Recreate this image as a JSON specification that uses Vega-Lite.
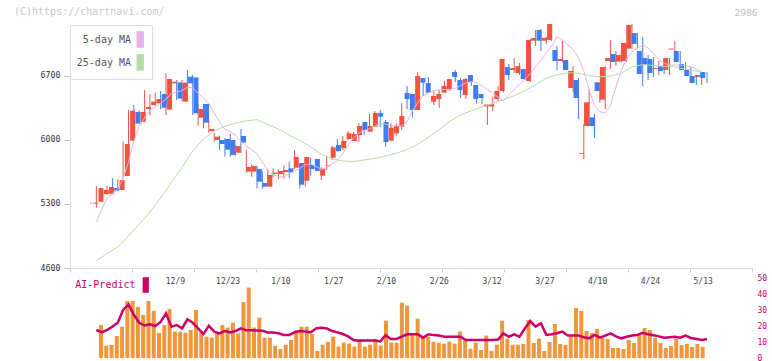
{
"$schema": "https://vega.github.io/schema/vega-lite/v6.json",
"width": 682, "height": 333,
"padding": {"left": 0, "top": 7, "right": 0, "bottom": 0},
"background": "white",
"title": {"text": "(C)https://chartnavi.com/", "anchor": "start", "frame": "group", "dx": -56, "offset": -10, "font": "DejaVu Sans Mono", "fontSize": 10, "fontWeight": "normal", "color": "#c8c8c8"},
"datasets": {
"candles": [
{"i":0,"o":5305,"h":5318,"l":5302,"c":5315},{"i":1,"o":5325,"h":5497,"l":5260,"c":5475},{"i":2,"o":5409,"h":5461,"l":5351,"c":5453},{"i":3,"o":5411,"h":5497,"l":5398,"c":5486},{"i":4,"o":5475,"h":5584,"l":5409,"c":5446},{"i":5,"o":5453,"h":5569,"l":5446,"c":5562},{"i":6,"o":5606,"h":5982,"l":5581,"c":5956},{"i":7,"o":5993,"h":6328,"l":5861,"c":6321},{"i":8,"o":6306,"h":6383,"l":6044,"c":6179},{"i":9,"o":6197,"h":6321,"l":6184,"c":6306},
{"i":10,"o":6339,"h":6547,"l":6292,"c":6361},{"i":11,"o":6383,"h":6500,"l":6266,"c":6419},{"i":12,"o":6401,"h":6517,"l":6372,"c":6448},{"i":13,"o":6503,"h":6536,"l":6336,"c":6353},{"i":14,"o":6332,"h":6729,"l":6273,"c":6667},{"i":15,"o":6620,"h":6645,"l":6517,"c":6638},{"i":16,"o":6630,"h":6656,"l":6438,"c":6452},{"i":17,"o":6419,"h":6656,"l":6419,"c":6627},{"i":18,"o":6693,"h":6766,"l":6583,"c":6620},{"i":19,"o":6685,"h":6711,"l":6273,"c":6292},
{"i":20,"o":6244,"h":6394,"l":6157,"c":6339},{"i":21,"o":6394,"h":6394,"l":6128,"c":6190},{"i":22,"o":6098,"h":6208,"l":6080,"c":6120},{"i":23,"o":6000,"h":6080,"l":5982,"c":6036},{"i":24,"o":6000,"h":6047,"l":5891,"c":5956},{"i":25,"o":6011,"h":6022,"l":5818,"c":5894},{"i":26,"o":6000,"h":6066,"l":5818,"c":5836},{"i":27,"o":5861,"h":5945,"l":5827,"c":5934},{"i":28,"o":6044,"h":6120,"l":5861,"c":5971},{"i":29,"o":5654,"h":5891,"l":5643,"c":5705},
{"i":30,"o":5654,"h":5734,"l":5599,"c":5716},{"i":31,"o":5683,"h":5716,"l":5471,"c":5544},{"i":32,"o":5530,"h":5657,"l":5468,"c":5490},{"i":33,"o":5490,"h":5683,"l":5490,"c":5617},{"i":34,"o":5628,"h":5690,"l":5592,"c":5643},{"i":35,"o":5628,"h":5679,"l":5570,"c":5661},{"i":36,"o":5650,"h":5723,"l":5577,"c":5672},{"i":37,"o":5690,"h":5763,"l":5581,"c":5646},{"i":38,"o":5697,"h":5891,"l":5683,"c":5814},{"i":39,"o":5748,"h":5748,"l":5468,"c":5511},
{"i":40,"o":5555,"h":5814,"l":5490,"c":5814},{"i":41,"o":5727,"h":5807,"l":5610,"c":5683},{"i":42,"o":5792,"h":5792,"l":5661,"c":5661},{"i":43,"o":5610,"h":5701,"l":5562,"c":5683},{"i":44,"o":5720,"h":5825,"l":5672,"c":5727},{"i":45,"o":5807,"h":5934,"l":5778,"c":5920},{"i":46,"o":5945,"h":6011,"l":5869,"c":5880},{"i":47,"o":5912,"h":6044,"l":5891,"c":5989},{"i":48,"o":6011,"h":6098,"l":6000,"c":6073},{"i":49,"o":5989,"h":6088,"l":5989,"c":6066},
{"i":50,"o":6055,"h":6182,"l":5982,"c":6153},{"i":51,"o":6197,"h":6197,"l":6055,"c":6109},{"i":52,"o":6091,"h":6284,"l":6091,"c":6153},{"i":53,"o":6146,"h":6317,"l":6146,"c":6295},{"i":54,"o":6295,"h":6328,"l":6142,"c":6255},{"i":55,"o":6197,"h":6219,"l":5927,"c":5978},{"i":56,"o":5993,"h":6183,"l":5990,"c":6135},{"i":57,"o":6073,"h":6183,"l":6048,"c":6153},{"i":58,"o":6146,"h":6401,"l":6110,"c":6263},{"i":59,"o":6514,"h":6591,"l":6339,"c":6448},
{"i":60,"o":6503,"h":6503,"l":6244,"c":6328},{"i":61,"o":6328,"h":6744,"l":6328,"c":6700},{"i":62,"o":6678,"h":6678,"l":6481,"c":6627},{"i":63,"o":6623,"h":6689,"l":6518,"c":6518},{"i":64,"o":6419,"h":6536,"l":6383,"c":6481},{"i":65,"o":6448,"h":6547,"l":6350,"c":6503},{"i":66,"o":6518,"h":6645,"l":6518,"c":6591},{"i":67,"o":6558,"h":6667,"l":6536,"c":6667},{"i":68,"o":6744,"h":6766,"l":6634,"c":6689},{"i":69,"o":6656,"h":6678,"l":6459,"c":6547},
{"i":70,"o":6492,"h":6678,"l":6448,"c":6667},{"i":71,"o":6711,"h":6711,"l":6591,"c":6634},{"i":72,"o":6602,"h":6602,"l":6394,"c":6448},{"i":73,"o":6503,"h":6503,"l":6394,"c":6459},{"i":74,"o":6365,"h":6390,"l":6164,"c":6387},{"i":75,"o":6368,"h":6470,"l":6317,"c":6390},{"i":76,"o":6448,"h":6591,"l":6427,"c":6536},{"i":77,"o":6536,"h":6886,"l":6521,"c":6886},{"i":78,"o":6798,"h":6831,"l":6656,"c":6711},{"i":79,"o":6766,"h":6897,"l":6733,"c":6787},
{"i":80,"o":6733,"h":6842,"l":6711,"c":6809},{"i":81,"o":6777,"h":6777,"l":6656,"c":6667},{"i":82,"o":6645,"h":7105,"l":6634,"c":7094},{"i":83,"o":7086,"h":7203,"l":7028,"c":7116},{"i":84,"o":7203,"h":7214,"l":6973,"c":7086},{"i":85,"o":7086,"h":7127,"l":7050,"c":7116},{"i":86,"o":7094,"h":7269,"l":7083,"c":7269},{"i":87,"o":6984,"h":7028,"l":6766,"c":6864},{"i":88,"o":6864,"h":7083,"l":6853,"c":6886},{"i":89,"o":6875,"h":6875,"l":6766,"c":6766},
{"i":90,"o":6569,"h":6809,"l":6525,"c":6755},{"i":91,"o":6656,"h":6678,"l":6230,"c":6459},{"i":92,"o":5850,"h":6175,"l":5792,"c":5858},{"i":93,"o":6153,"h":6558,"l":6153,"c":6412},{"i":94,"o":6248,"h":6284,"l":6025,"c":6153},{"i":95,"o":6631,"h":6631,"l":6408,"c":6536},{"i":96,"o":6441,"h":6809,"l":6339,"c":6798},{"i":97,"o":6864,"h":7094,"l":6777,"c":6897},{"i":98,"o":6941,"h":6973,"l":6809,"c":6853},{"i":99,"o":6857,"h":6973,"l":6853,"c":6930},
{"i":100,"o":6864,"h":7061,"l":6853,"c":7061},{"i":101,"o":6999,"h":7269,"l":6999,"c":7258},{"i":102,"o":7170,"h":7170,"l":6999,"c":7050},{"i":103,"o":6973,"h":7127,"l":6591,"c":6722},{"i":104,"o":6897,"h":6930,"l":6656,"c":6820},{"i":105,"o":6886,"h":6908,"l":6689,"c":6733},{"i":106,"o":6776,"h":6864,"l":6711,"c":6787},{"i":107,"o":6809,"h":6886,"l":6722,"c":6755},{"i":108,"o":6766,"h":6897,"l":6711,"c":6897},{"i":109,"o":6990,"h":7083,"l":6853,"c":7000},
{"i":110,"o":6973,"h":6973,"l":6787,"c":6853},{"i":111,"o":6831,"h":6853,"l":6722,"c":6766},{"i":112,"o":6766,"h":6798,"l":6678,"c":6700},{"i":113,"o":6700,"h":6711,"l":6601,"c":6623},{"i":114,"o":6689,"h":6744,"l":6601,"c":6711},{"i":115,"o":6744,"h":6744,"l":6623,"c":6678}
],
"ma": [
{"i":1,"s":"5-day MA","v":5100},{"i":2,"s":"5-day MA","v":5240},{"i":3,"s":"5-day MA","v":5360},{"i":4,"s":"5-day MA","v":5417},{"i":5,"s":"5-day MA","v":5460},{"i":6,"s":"5-day MA","v":5580},{"i":7,"s":"5-day MA","v":5760},{"i":8,"s":"5-day MA","v":5990},{"i":9,"s":"5-day MA","v":6150},{"i":10,"s":"5-day MA","v":6245},
{"i":11,"s":"5-day MA","v":6320},{"i":12,"s":"5-day MA","v":6360},{"i":13,"s":"5-day MA","v":6400},{"i":14,"s":"5-day MA","v":6450},{"i":15,"s":"5-day MA","v":6505},{"i":16,"s":"5-day MA","v":6525},{"i":17,"s":"5-day MA","v":6540},{"i":18,"s":"5-day MA","v":6575},{"i":19,"s":"5-day MA","v":6570},{"i":20,"s":"5-day MA","v":6510},
{"i":21,"s":"5-day MA","v":6460},{"i":22,"s":"5-day MA","v":6400},{"i":23,"s":"5-day MA","v":6290},{"i":24,"s":"5-day MA","v":6200},{"i":25,"s":"5-day MA","v":6115},{"i":26,"s":"5-day MA","v":6090},{"i":27,"s":"5-day MA","v":6050},{"i":28,"s":"5-day MA","v":5985},{"i":29,"s":"5-day MA","v":5935},{"i":30,"s":"5-day MA","v":5895},
{"i":31,"s":"5-day MA","v":5850},{"i":32,"s":"5-day MA","v":5760},{"i":33,"s":"5-day MA","v":5660},{"i":34,"s":"5-day MA","v":5620},{"i":35,"s":"5-day MA","v":5600},{"i":36,"s":"5-day MA","v":5595},{"i":37,"s":"5-day MA","v":5632},{"i":38,"s":"5-day MA","v":5660},{"i":39,"s":"5-day MA","v":5690},{"i":40,"s":"5-day MA","v":5730},
{"i":41,"s":"5-day MA","v":5740},{"i":42,"s":"5-day MA","v":5710},{"i":43,"s":"5-day MA","v":5680},{"i":44,"s":"5-day MA","v":5695},{"i":45,"s":"5-day MA","v":5740},{"i":46,"s":"5-day MA","v":5775},{"i":47,"s":"5-day MA","v":5850},{"i":48,"s":"5-day MA","v":5940},{"i":49,"s":"5-day MA","v":6025},{"i":50,"s":"5-day MA","v":6075},
{"i":51,"s":"5-day MA","v":6105},{"i":52,"s":"5-day MA","v":6125},{"i":53,"s":"5-day MA","v":6150},{"i":54,"s":"5-day MA","v":6180},{"i":55,"s":"5-day MA","v":6175},{"i":56,"s":"5-day MA","v":6158},{"i":57,"s":"5-day MA","v":6153},{"i":58,"s":"5-day MA","v":6155},{"i":59,"s":"5-day MA","v":6200},{"i":60,"s":"5-day MA","v":6320},
{"i":61,"s":"5-day MA","v":6410},{"i":62,"s":"5-day MA","v":6480},{"i":63,"s":"5-day MA","v":6515},{"i":64,"s":"5-day MA","v":6538},{"i":65,"s":"5-day MA","v":6550},{"i":66,"s":"5-day MA","v":6552},{"i":67,"s":"5-day MA","v":6550},{"i":68,"s":"5-day MA","v":6565},{"i":69,"s":"5-day MA","v":6595},{"i":70,"s":"5-day MA","v":6625},
{"i":71,"s":"5-day MA","v":6638},{"i":72,"s":"5-day MA","v":6628},{"i":73,"s":"5-day MA","v":6592},{"i":74,"s":"5-day MA","v":6548},{"i":75,"s":"5-day MA","v":6520},{"i":76,"s":"5-day MA","v":6465},{"i":77,"s":"5-day MA","v":6430},{"i":78,"s":"5-day MA","v":6490},{"i":79,"s":"5-day MA","v":6555},{"i":80,"s":"5-day MA","v":6610},
{"i":81,"s":"5-day MA","v":6665},{"i":82,"s":"5-day MA","v":6725},{"i":83,"s":"5-day MA","v":6800},{"i":84,"s":"5-day MA","v":6870},{"i":85,"s":"5-day MA","v":6955},{"i":86,"s":"5-day MA","v":7030},{"i":87,"s":"5-day MA","v":7130},{"i":88,"s":"5-day MA","v":7092},{"i":89,"s":"5-day MA","v":7040},{"i":90,"s":"5-day MA","v":6990},
{"i":91,"s":"5-day MA","v":6900},{"i":92,"s":"5-day MA","v":6755},{"i":93,"s":"5-day MA","v":6545},{"i":94,"s":"5-day MA","v":6375},{"i":95,"s":"5-day MA","v":6310},{"i":96,"s":"5-day MA","v":6295},{"i":97,"s":"5-day MA","v":6380},{"i":98,"s":"5-day MA","v":6580},{"i":99,"s":"5-day MA","v":6760},{"i":100,"s":"5-day MA","v":6890},
{"i":101,"s":"5-day MA","v":6965},{"i":102,"s":"5-day MA","v":7005},{"i":103,"s":"5-day MA","v":7035},{"i":104,"s":"5-day MA","v":7005},{"i":105,"s":"5-day MA","v":6950},{"i":106,"s":"5-day MA","v":6875},{"i":107,"s":"5-day MA","v":6840},{"i":108,"s":"5-day MA","v":6820},{"i":109,"s":"5-day MA","v":6820},{"i":110,"s":"5-day MA","v":6820},
{"i":111,"s":"5-day MA","v":6815},{"i":112,"s":"5-day MA","v":6800},{"i":113,"s":"5-day MA","v":6775},{"i":114,"s":"5-day MA","v":6745},
{"i":1,"s":"25-day MA","v":4677},{"i":3,"s":"25-day MA","v":4760},{"i":5,"s":"25-day MA","v":4830},{"i":7,"s":"25-day MA","v":4950},{"i":9,"s":"25-day MA","v":5080},{"i":10,"s":"25-day MA","v":5140},{"i":12,"s":"25-day MA","v":5290},{"i":14,"s":"25-day MA","v":5450},{"i":16,"s":"25-day MA","v":5620},{"i":17,"s":"25-day MA","v":5700},
{"i":19,"s":"25-day MA","v":5880},{"i":21,"s":"25-day MA","v":6010},{"i":23,"s":"25-day MA","v":6100},{"i":25,"s":"25-day MA","v":6150},{"i":27,"s":"25-day MA","v":6185},{"i":29,"s":"25-day MA","v":6210},{"i":31,"s":"25-day MA","v":6222},{"i":32,"s":"25-day MA","v":6195},{"i":33,"s":"25-day MA","v":6170},{"i":35,"s":"25-day MA","v":6120},
{"i":37,"s":"25-day MA","v":6055},{"i":39,"s":"25-day MA","v":5995},{"i":41,"s":"25-day MA","v":5925},{"i":43,"s":"25-day MA","v":5845},{"i":45,"s":"25-day MA","v":5795},{"i":47,"s":"25-day MA","v":5770},{"i":49,"s":"25-day MA","v":5765},{"i":51,"s":"25-day MA","v":5782},{"i":53,"s":"25-day MA","v":5798},{"i":55,"s":"25-day MA","v":5825},
{"i":57,"s":"25-day MA","v":5855},{"i":59,"s":"25-day MA","v":5895},{"i":61,"s":"25-day MA","v":5950},{"i":63,"s":"25-day MA","v":6030},{"i":65,"s":"25-day MA","v":6115},{"i":67,"s":"25-day MA","v":6205},{"i":69,"s":"25-day MA","v":6275},{"i":71,"s":"25-day MA","v":6320},{"i":73,"s":"25-day MA","v":6360},{"i":75,"s":"25-day MA","v":6400},
{"i":77,"s":"25-day MA","v":6440},{"i":79,"s":"25-day MA","v":6485},{"i":82,"s":"25-day MA","v":6570},{"i":85,"s":"25-day MA","v":6675},{"i":87,"s":"25-day MA","v":6715},{"i":89,"s":"25-day MA","v":6735},{"i":91,"s":"25-day MA","v":6730},{"i":93,"s":"25-day MA","v":6705},{"i":95,"s":"25-day MA","v":6690},{"i":97,"s":"25-day MA","v":6700},
{"i":99,"s":"25-day MA","v":6730},{"i":101,"s":"25-day MA","v":6800},{"i":103,"s":"25-day MA","v":6825},{"i":106,"s":"25-day MA","v":6810},{"i":109,"s":"25-day MA","v":6800},{"i":111,"s":"25-day MA","v":6775},{"i":114,"s":"25-day MA","v":6740}
],
"vol": [
{"i":1,"v":20.6},{"i":2,"v":7.7},{"i":3,"v":8.1},{"i":4,"v":13.75},{"i":5,"v":19.6},{"i":6,"v":35.6},{"i":7,"v":35.6},{"i":8,"v":31.9},{"i":9,"v":26.9},{"i":10,"v":35.6},
{"i":11,"v":29.4},{"i":12,"v":15.6},{"i":13,"v":20.6},{"i":14,"v":30.6},{"i":15,"v":16.5},{"i":16,"v":16.5},{"i":17,"v":15.8},{"i":18,"v":17.5},{"i":19,"v":30},{"i":20,"v":16.5},
{"i":21,"v":13.3},{"i":22,"v":12.7},{"i":23,"v":15.8},{"i":24,"v":20.6},{"i":25,"v":19},{"i":26,"v":22.1},{"i":27,"v":15.4},{"i":28,"v":35},{"i":29,"v":44},{"i":30,"v":19},
{"i":31,"v":25.2},{"i":32,"v":12.7},{"i":33,"v":12.7},{"i":34,"v":7.7},{"i":35,"v":5.6},{"i":36,"v":8.3},{"i":37,"v":11.25},{"i":38,"v":17.5},{"i":39,"v":19.6},{"i":40,"v":19.6},
{"i":41,"v":15},{"i":42,"v":4.4},{"i":43,"v":8.3},{"i":44,"v":10.2},{"i":45,"v":13.3},{"i":46,"v":7.1},{"i":47,"v":9.6},{"i":48,"v":9},{"i":49,"v":7.1},{"i":50,"v":11.9},
{"i":51,"v":7.1},{"i":52,"v":8.3},{"i":53,"v":11.9},{"i":54,"v":7.7},{"i":55,"v":23.3},{"i":56,"v":9.6},{"i":57,"v":9.6},{"i":58,"v":34.6},{"i":59,"v":32.7},{"i":60,"v":14.4},
{"i":61,"v":24.6},{"i":62,"v":13.3},{"i":63,"v":13.3},{"i":64,"v":10.2},{"i":65,"v":9.6},{"i":66,"v":9},{"i":67,"v":10.2},{"i":68,"v":9},{"i":69,"v":16.5},{"i":70,"v":11.25},
{"i":71,"v":5.8},{"i":72,"v":9.6},{"i":73,"v":5},{"i":74,"v":14},{"i":75,"v":4.4},{"i":76,"v":8.3},{"i":77,"v":23.3},{"i":78,"v":12.1},{"i":79,"v":8.3},{"i":80,"v":8.3},
{"i":81,"v":8.75},{"i":82,"v":23.75},{"i":83,"v":9.4},{"i":84,"v":12.1},{"i":85,"v":4.4},{"i":86,"v":10},{"i":87,"v":21.25},{"i":88,"v":8.75},{"i":89,"v":8.1},{"i":90,"v":13.3},
{"i":91,"v":31.25},{"i":92,"v":29.4},{"i":93,"v":16.9},{"i":94,"v":15.6},{"i":95,"v":18.1},{"i":96,"v":12.5},{"i":97,"v":11.9},{"i":98,"v":6.25},{"i":99,"v":6.25},{"i":100,"v":5.6},
{"i":101,"v":11.25},{"i":102,"v":9.4},{"i":103,"v":14.4},{"i":104,"v":18.75},{"i":105,"v":17.5},{"i":106,"v":12.5},{"i":107,"v":9.4},{"i":108,"v":6.25},{"i":109,"v":7.5},{"i":110,"v":11.9},
{"i":111,"v":8.1},{"i":112,"v":8.75},{"i":113,"v":6.9},{"i":114,"v":8.75},{"i":115,"v":6.9}
],
"ai": [
{"i":1,"s":"AI-Predict","v":17.5},{"i":2,"s":"AI-Predict","v":16},{"i":3,"s":"AI-Predict","v":17.5},{"i":4,"s":"AI-Predict","v":19.6},{"i":5,"s":"AI-Predict","v":22},{"i":6,"s":"AI-Predict","v":30},{"i":7,"s":"AI-Predict","v":33.5},{"i":8,"s":"AI-Predict","v":27},{"i":9,"s":"AI-Predict","v":22},{"i":10,"s":"AI-Predict","v":20.3},
{"i":11,"s":"AI-Predict","v":21},{"i":12,"s":"AI-Predict","v":20},{"i":13,"s":"AI-Predict","v":22.5},{"i":14,"s":"AI-Predict","v":27.9},{"i":15,"s":"AI-Predict","v":19.6},{"i":16,"s":"AI-Predict","v":20.6},{"i":17,"s":"AI-Predict","v":18.5},{"i":18,"s":"AI-Predict","v":24.2},{"i":19,"s":"AI-Predict","v":22},{"i":20,"s":"AI-Predict","v":18.5},
{"i":21,"s":"AI-Predict","v":15},{"i":22,"s":"AI-Predict","v":20.2},{"i":23,"s":"AI-Predict","v":16.5},{"i":24,"s":"AI-Predict","v":15.4},{"i":25,"s":"AI-Predict","v":16.9},{"i":26,"s":"AI-Predict","v":16},{"i":27,"s":"AI-Predict","v":16.9},{"i":28,"s":"AI-Predict","v":18.5},{"i":29,"s":"AI-Predict","v":17.3},{"i":30,"s":"AI-Predict","v":17.3},
{"i":31,"s":"AI-Predict","v":17.2},{"i":32,"s":"AI-Predict","v":17.1},{"i":33,"s":"AI-Predict","v":16},{"i":34,"s":"AI-Predict","v":16},{"i":35,"s":"AI-Predict","v":15.5},{"i":36,"s":"AI-Predict","v":14.4},{"i":37,"s":"AI-Predict","v":14.4},{"i":38,"s":"AI-Predict","v":16},{"i":39,"s":"AI-Predict","v":16.9},{"i":40,"s":"AI-Predict","v":16.5},
{"i":41,"s":"AI-Predict","v":16},{"i":42,"s":"AI-Predict","v":18.5},{"i":43,"s":"AI-Predict","v":18.9},{"i":44,"s":"AI-Predict","v":18.5},{"i":45,"s":"AI-Predict","v":16.9},{"i":46,"s":"AI-Predict","v":16},{"i":47,"s":"AI-Predict","v":15},{"i":48,"s":"AI-Predict","v":13.5},{"i":49,"s":"AI-Predict","v":11.25},{"i":50,"s":"AI-Predict","v":10.8},
{"i":51,"s":"AI-Predict","v":11},{"i":52,"s":"AI-Predict","v":11},{"i":53,"s":"AI-Predict","v":11},{"i":54,"s":"AI-Predict","v":10.4},{"i":55,"s":"AI-Predict","v":14.2},{"i":56,"s":"AI-Predict","v":11.9},{"i":57,"s":"AI-Predict","v":11.9},{"i":58,"s":"AI-Predict","v":13.3},{"i":59,"s":"AI-Predict","v":14.8},{"i":60,"s":"AI-Predict","v":14.8},
{"i":61,"s":"AI-Predict","v":14.8},{"i":62,"s":"AI-Predict","v":12.7},{"i":63,"s":"AI-Predict","v":14.8},{"i":64,"s":"AI-Predict","v":14.3},{"i":65,"s":"AI-Predict","v":14},{"i":66,"s":"AI-Predict","v":13.3},{"i":67,"s":"AI-Predict","v":13.3},{"i":68,"s":"AI-Predict","v":13.3},{"i":69,"s":"AI-Predict","v":13.3},{"i":70,"s":"AI-Predict","v":11.25},
{"i":71,"s":"AI-Predict","v":11.25},{"i":72,"s":"AI-Predict","v":11.25},{"i":73,"s":"AI-Predict","v":11.25},{"i":74,"s":"AI-Predict","v":11.25},{"i":75,"s":"AI-Predict","v":11.25},{"i":76,"s":"AI-Predict","v":11.5},{"i":77,"s":"AI-Predict","v":15.4},{"i":78,"s":"AI-Predict","v":13.3},{"i":79,"s":"AI-Predict","v":14.8},{"i":80,"s":"AI-Predict","v":13.3},
{"i":81,"s":"AI-Predict","v":18.5},{"i":82,"s":"AI-Predict","v":23.1},{"i":83,"s":"AI-Predict","v":19.6},{"i":84,"s":"AI-Predict","v":21.7},{"i":85,"s":"AI-Predict","v":14.4},{"i":86,"s":"AI-Predict","v":14.8},{"i":87,"s":"AI-Predict","v":15.5},{"i":88,"s":"AI-Predict","v":16.5},{"i":89,"s":"AI-Predict","v":14},{"i":90,"s":"AI-Predict","v":14},
{"i":91,"s":"AI-Predict","v":14},{"i":92,"s":"AI-Predict","v":13},{"i":93,"s":"AI-Predict","v":12.3},{"i":94,"s":"AI-Predict","v":14.4},{"i":95,"s":"AI-Predict","v":12.7},{"i":96,"s":"AI-Predict","v":14},{"i":97,"s":"AI-Predict","v":15.4},{"i":98,"s":"AI-Predict","v":13.5},{"i":99,"s":"AI-Predict","v":12.3},{"i":100,"s":"AI-Predict","v":13.3},
{"i":101,"s":"AI-Predict","v":14},{"i":102,"s":"AI-Predict","v":14.4},{"i":103,"s":"AI-Predict","v":15.8},{"i":104,"s":"AI-Predict","v":14.8},{"i":105,"s":"AI-Predict","v":14.2},{"i":106,"s":"AI-Predict","v":13.5},{"i":107,"s":"AI-Predict","v":12.7},{"i":108,"s":"AI-Predict","v":13},{"i":109,"s":"AI-Predict","v":13.3},{"i":110,"s":"AI-Predict","v":12.7},
{"i":111,"s":"AI-Predict","v":14},{"i":112,"s":"AI-Predict","v":12.5},{"i":113,"s":"AI-Predict","v":11.9},{"i":114,"s":"AI-Predict","v":11.25},{"i":115,"s":"AI-Predict","v":11.9}
]
},
"layer": [
{
"data": {"name": "candles"},
"mark": {"type": "rule", "strokeWidth": 1},
"encoding": {
"x": {"field": "i", "type": "quantitative", "scale": {"domain": [-3.92, 123.4], "nice": false, "zero": false},
"axis": {"orient": "bottom", "values": [-3.92, 7.655, 19.23, 30.805, 42.38, 53.955, 65.53, 77.105, 88.68, 100.255, 111.83, 123.4], "labels": false, "ticks": true, "tickSize": 4, "tickColor": "#cccccc", "domain": true, "domainColor": "#dddddd", "grid": false, "title": null, "offset": -90, "minExtent": 0, "maxExtent": 10}},
"y": {"field": "l", "type": "quantitative", "scale": {"domain": [4600, 7257.8], "range": [243, 0], "nice": false, "zero": false},
"axis": {"orient": "left", "values": [4600, 5300, 6000, 6700], "format": "d", "grid": false, "domainColor": "#dddddd", "tickColor": "#bbbbbb", "tickSize": 6, "labelFont": "DejaVu Sans Mono", "labelFontSize": 8.3, "labelColor": "#333333", "labelPadding": 4, "title": null, "minExtent": 70, "maxExtent": 70}},
"y2": {"field": "h"},
"color": {"condition": {"test": "datum.c >= datum.o", "value": "#f05240"}, "value": "#407cf0"}
}
},
{
"data": {"name": "candles"},
"mark": {"type": "bar", "size": 5},
"encoding": {
"x": {"field": "i", "type": "quantitative", "scale": {"domain": [-3.92, 123.4], "nice": false, "zero": false},
"axis": {"orient": "bottom", "values": [15, 25, 35, 45, 55, 65, 75, 85, 95, 105, 115], "labelExpr": "['12/9','12/23','1/10','1/27','2/10','2/26','3/12','3/27','4/10','4/24','5/13'][(datum.value-15)/10]", "ticks": false, "tickSize": 0, "domain": false, "grid": false, "title": null, "offset": -90, "labelPadding": 9, "labelFont": "DejaVu Sans Mono", "labelFontSize": 8, "labelColor": "#444444", "labelFlush": false, "labelOverlap": false, "minExtent": 0, "maxExtent": 20}},
"y": {"field": "o", "type": "quantitative", "scale": {"domain": [4600, 7257.8], "range": [243, 0], "nice": false, "zero": false}, "axis": null},
"y2": {"field": "c"},
"color": {"condition": {"test": "datum.c >= datum.o", "value": "#f05240"}, "value": "#407cf0"}
}
},
{
"data": {"name": "ma"},
"mark": {"type": "line", "strokeWidth": 1},
"encoding": {
"x": {"field": "i", "type": "quantitative", "scale": {"domain": [-3.92, 123.4], "nice": false, "zero": false}, "axis": null},
"y": {"field": "v", "type": "quantitative", "scale": {"domain": [4600, 7257.8], "range": [243, 0], "nice": false, "zero": false}, "axis": null},
"color": {"field": "s", "type": "nominal", "scale": {"domain": ["5-day MA", "25-day MA"], "range": ["#e8b4e8", "#b8dca8"]},
"legend": {"orient": "top-left", "offset": 0, "title": null, "padding": 6, "fillColor": "white", "strokeColor": "#dddddd", "symbolType": "M-0.4,-1H0.4V1H-0.4Z", "symbolSize": 240, "labelAlign": "right", "labelOffset": -17.75, "symbolOffset": 55.75, "labelFont": "DejaVu Sans Mono", "labelFontSize": 10, "labelColor": "#555555", "rowPadding": 2, "symbolStrokeWidth": 1.2, "symbolStrokeColor": "#666666",
"encode": {"symbols": {"update": {"fill": {"signal": "datum.value === '5-day MA' ? '#e8b4e8' : '#b8dca8'"}, "stroke": {"value": "#666666"}, "strokeWidth": {"value": 1.2}, "opacity": {"value": 1}}}}}}
}
},
{
"data": {"name": "vol"},
"mark": {"type": "bar", "size": 4, "color": "#f0963c"},
"encoding": {
"x": {"field": "i", "type": "quantitative", "scale": {"domain": [-3.92, 123.4], "nice": false, "zero": false}, "axis": null},
"y": {"field": "v", "type": "quantitative", "scale": {"domain": [0, 50], "range": [333, 253], "nice": false},
"axis": {"orient": "right", "values": [0, 10, 20, 30, 40, 50], "grid": false, "domain": false, "ticks": false, "labelPadding": 5, "labelFont": "DejaVu Sans Mono", "labelFontSize": 8, "labelColor": "#cc0066", "minExtent": 20, "maxExtent": 20,
"title": "2986", "titleAngle": 0, "titleAlign": "right", "titleBaseline": "bottom", "titleX": 5, "titleY": -8, "titleFont": "DejaVu Sans Mono", "titleFontSize": 9.5, "titleFontWeight": "normal", "titleColor": "#c0c0c0"}}
}
},
{
"data": {"name": "ai"},
"mark": {"type": "line", "strokeWidth": 2.5},
"encoding": {
"x": {"field": "i", "type": "quantitative", "scale": {"domain": [-3.92, 123.4], "nice": false, "zero": false}, "axis": null},
"y": {"field": "v", "type": "quantitative", "scale": {"domain": [0, 50], "range": [333, 253], "nice": false}, "axis": null},
"color": {"field": "s", "type": "nominal", "scale": {"domain": ["AI-Predict"], "range": ["#cc0066"]},
"legend": {"orient": "none", "legendX": 0, "legendY": 252, "title": null, "padding": 0, "symbolType": "M-0.4,-1H0.4V1H-0.4Z", "symbolSize": 240, "labelAlign": "right", "labelOffset": -18.25, "symbolOffset": 67.75, "labelFont": "DejaVu Sans Mono", "labelFontSize": 10, "labelColor": "#cc0066",
"encode": {"symbols": {"update": {"fill": {"value": "#cc0066"}, "stroke": {"value": "#cc0066"}, "strokeWidth": {"value": 0}, "opacity": {"value": 1}}}}}}
}
}
],
"resolve": {"scale": {"x": "independent", "y": "independent", "color": "independent"}, "axis": {"x": "independent", "y": "independent"}},
"config": {"view": {"stroke": null}, "font": "DejaVu Sans Mono"}
}
